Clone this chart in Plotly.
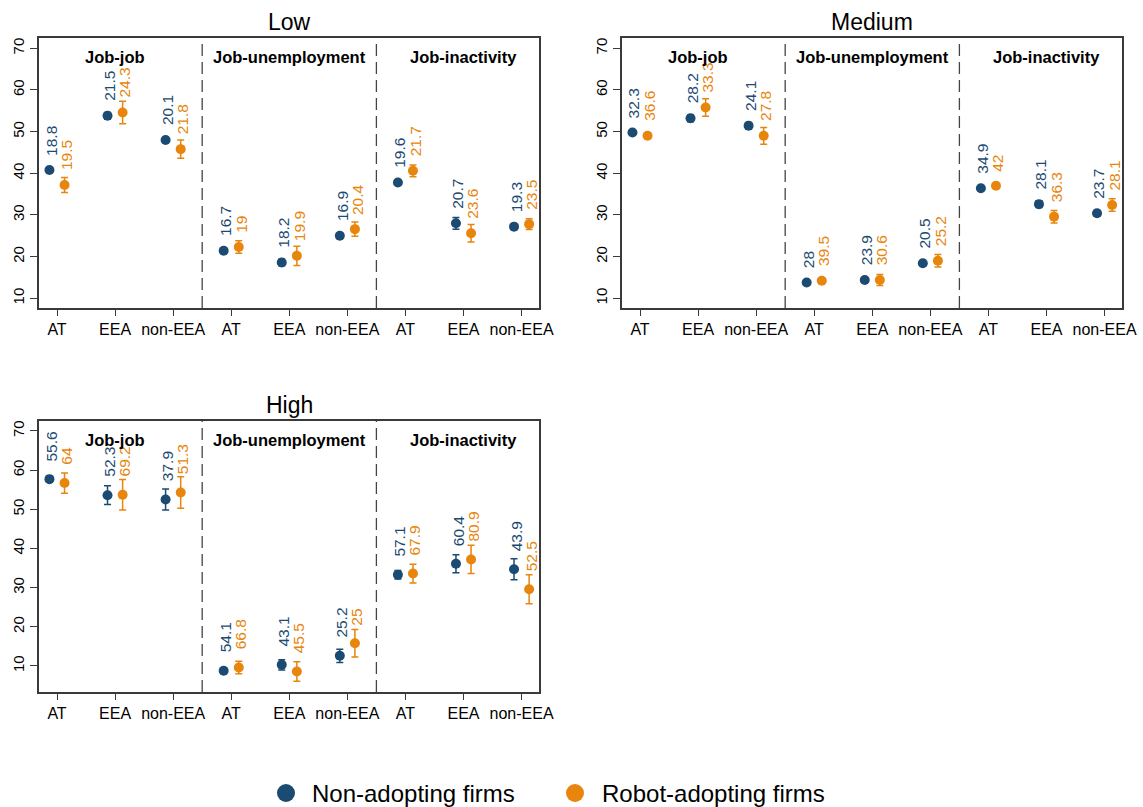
import plotly.graph_objects as go

# ---------------- data ----------------
panels = ["Low", "Medium", "High"]
sections = ["Job-job", "Job-unemployment", "Job-inactivity"]
destinations = ["AT", "EEA", "non-EEA"]

# values ordered: Job-job (AT, EEA, non-EEA), Job-unemployment (...), Job-inactivity (...)
low_non = [40.8, 53.8, 48.0, 21.4, 18.6, 25.0, 37.8, 28.0, 27.2]
low_non_err = [0.5, 0.8, 0.5, 0.6, 0.8, 0.6, 0.5, 1.4, 0.5]
low_rob = [37.2, 54.6, 45.8, 22.3, 20.2, 26.6, 40.6, 25.6, 27.8]
low_rob_err = [1.8, 2.7, 2.2, 1.5, 2.3, 1.7, 1.4, 2.1, 1.3]
low_non_lbl = ["18.8", "21.5", "20.1", "16.7", "18.2", "16.9", "19.6", "20.7", "19.3"]
low_rob_lbl = ["19.5", "24.3", "21.8", "19", "19.9", "20.4", "21.7", "23.6", "23.5"]

med_non = [49.8, 53.2, 51.4, 13.8, 14.4, 18.4, 36.4, 32.6, 30.4]
med_non_err = [0.3, 0.8, 0.8, 0.2, 0.5, 0.5, 0.3, 0.8, 0.7]
med_rob = [49.0, 55.8, 49.0, 14.2, 14.4, 19.0, 37.0, 29.6, 32.4]
med_rob_err = [0.6, 2.1, 2.0, 0.4, 1.3, 1.5, 0.4, 1.5, 1.5]
med_non_lbl = ["32.3", "28.2", "24.1", "28", "23.9", "20.5", "34.9", "28.1", "23.7"]
med_rob_lbl = ["36.6", "33.3", "27.8", "39.5", "30.6", "25.2", "42", "36.3", "28.1"]

high_non = [57.7, 53.6, 52.5, 8.8, 10.3, 12.6, 33.3, 36.1, 34.7]
high_non_err = [0.8, 2.4, 2.7, 0.2, 1.3, 1.7, 1.1, 2.3, 2.7]
high_rob = [56.7, 53.7, 54.3, 9.6, 8.6, 15.8, 33.6, 37.2, 29.6]
high_rob_err = [2.6, 3.9, 4.0, 1.6, 2.5, 3.5, 2.4, 3.6, 3.7]
high_non_lbl = ["55.6", "52.3", "37.9", "54.1", "43.1", "25.2", "57.1", "60.4", "43.9"]
high_rob_lbl = ["64", "69.2", "51.3", "66.8", "45.5", "25", "67.9", "80.9", "52.5"]

series_names = ["Non-adopting firms", "Robot-adopting firms"]
y_ticks = [10, 20, 30, 40, 50, 60, 70]

# ---------------- style ----------------
W, H = 1143, 807
BLUE = "#1b4a72"
ORANGE = "#e8850c"
AX = "#3a3a3a"
FONT = "Liberation Sans, Arial, Helvetica, sans-serif"
OFF = 0.13

panel_data = {
    "Low": (low_non, low_non_err, low_rob, low_rob_err, low_non_lbl, low_rob_lbl),
    "Medium": (med_non, med_non_err, med_rob, med_rob_err, med_non_lbl, med_rob_lbl),
    "High": (high_non, high_non_err, high_rob, high_rob_err, high_non_lbl, high_rob_lbl),
}

# pixel boxes (left, top, right, bottom)
boxes = {"Low": (39, 38, 539, 308), "Medium": (622, 38, 1122, 308), "High": (39, 421, 539, 692)}
yranges = {"Low": [7.67, 72.47], "Medium": [7.67, 72.47], "High": [3.36, 72.55]}
lbl_shift = {"Low": 12.5, "Medium": 12.5, "High": 16}

# legend placement (pixels): marker centre x, text start x ; shared row y
legend_pos = [(286, 310), (575, 600)]
LEGEND_Y = 793

positions = [3 * s + d + 1 for s in range(len(sections)) for d in range(len(destinations))]
tick_text = destinations * len(sections)

fig = go.Figure()
layout = dict(
    width=W, height=H, margin=dict(l=0, r=0, t=0, b=0, autoexpand=False),
    paper_bgcolor="white", plot_bgcolor="white",
    font=dict(family=FONT, color="black"),
    showlegend=False,
)
annotations = []
shapes = []

for i, p in enumerate(panels):
    ax = "" if i == 0 else str(i + 1)
    xa, ya = "x" + ax, "y" + ax
    l, t, r, b = boxes[p]
    layout["xaxis" + ax] = dict(
        domain=[l / W, r / W], range=[0.69, 9.30], anchor=ya,
        tickvals=positions, ticktext=tick_text, ticks="outside", ticklen=6,
        tickcolor=AX, tickwidth=1, showline=True, linecolor=AX, linewidth=1.5,
        mirror=True, showgrid=False, zeroline=False,
        tickfont=dict(size=16, family=FONT, color="black"),
    )
    layout["yaxis" + ax] = dict(
        domain=[1 - b / H, 1 - t / H], range=yranges[p], anchor=xa,
        tickvals=y_ticks, tickangle=-90, ticks="outside", ticklen=7,
        tickcolor=AX, tickwidth=1, showline=True, linecolor=AX, linewidth=1.5,
        mirror=True, showgrid=False, zeroline=False,
        tickfont=dict(size=15, family=FONT, color="black"),
    )
    non, non_err, rob, rob_err, non_lbl, rob_lbl = panel_data[p]
    for vals, errs, lbls, col, off, nm in [
        (non, non_err, non_lbl, BLUE, -OFF, series_names[0]),
        (rob, rob_err, rob_lbl, ORANGE, OFF, series_names[1]),
    ]:
        xs = [x + off for x in positions]
        fig.add_trace(go.Scatter(
            x=xs, y=vals, mode="markers", xaxis=xa, yaxis=ya, name=nm,
            marker=dict(size=10, color=col),
            error_y=dict(type="data", array=errs, visible=True, color=col,
                         thickness=1.5, width=3.5),
        ))
        for xv, yv, tx in zip(xs, vals, lbls):
            annotations.append(dict(
                x=xv, y=yv, xref=xa, yref=ya, text=tx, showarrow=False,
                textangle=-90, xanchor="center", yanchor="bottom",
                yshift=lbl_shift[p], xshift=2,
                font=dict(size=15.5, color=col, family=FONT),
            ))
    # panel title
    annotations.append(dict(
        x=0.5, y=1, xref=xa + " domain", yref=ya + " domain", text=p,
        showarrow=False, yshift=16, yanchor="middle", xanchor="center",
        font=dict(size=23, family=FONT, color="black"),
    ))
    # section headers + dividers
    for s, sec in enumerate(sections):
        annotations.append(dict(
            x=3 * s + 2, y=1, xref=xa, yref=ya + " domain", text="<b>%s</b>" % sec,
            showarrow=False, yshift=-19, yanchor="middle", xanchor="center",
            font=dict(size=16.5, family=FONT, color="black"),
        ))
        if s > 0:
            shapes.append(dict(
                type="line", xref=xa, yref=ya + " domain", x0=3 * s + 0.5, x1=3 * s + 0.5,
                y0=0, y1=1, line=dict(color="#444444", width=1.3, dash="12px,6px"),
            ))

# legend (drawn as key markers + text)
for name, col, (mx, tx) in zip(series_names, [BLUE, ORANGE], legend_pos):
    shapes.append(dict(
        type="circle", xref="paper", yref="paper", xsizemode="pixel", ysizemode="pixel",
        xanchor=mx / W, yanchor=1 - LEGEND_Y / H, x0=-9, x1=9, y0=-9, y1=9,
        fillcolor=col, line=dict(width=0),
    ))
    annotations.append(dict(
        x=tx / W, y=1 - LEGEND_Y / H, xref="paper", yref="paper", text=name,
        showarrow=False, xanchor="left", yanchor="middle",
        font=dict(size=24, family=FONT, color="black"),
    ))

layout["annotations"] = annotations
layout["shapes"] = shapes
fig.update_layout(**layout)
fig.write_html(
    "out.html",
    config={"displayModeBar": False},
    post_script="document.body.style.margin='0';document.body.style.padding='0';"
                "document.body.style.overflow='hidden';",
)
